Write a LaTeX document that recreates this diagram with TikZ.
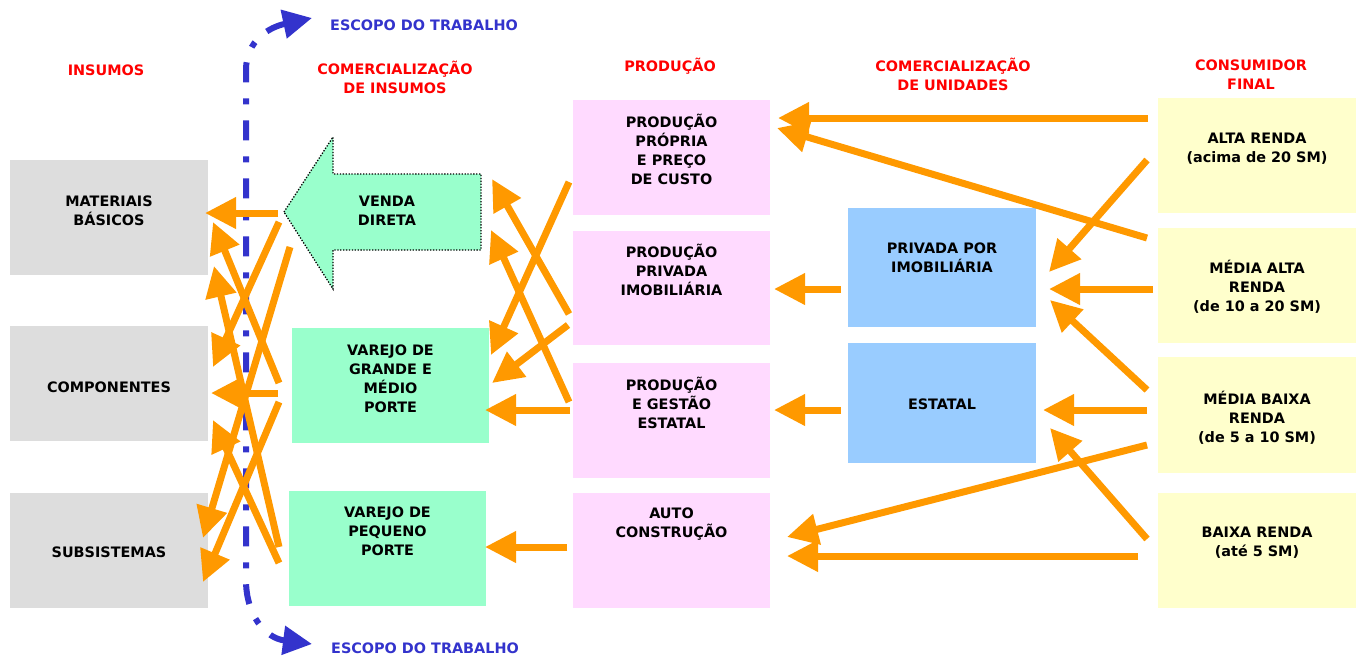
\documentclass[tikz,border=0pt]{standalone}
\usepackage{fontspec}
\setmainfont{DejaVu Sans}
\usetikzlibrary{arrows.meta,calc}
\definecolor{grayF}{HTML}{DDDDDD}
\definecolor{mintF}{HTML}{99FFCC}
\definecolor{pinkF}{HTML}{FFDAFF}
\definecolor{blueF}{HTML}{99CCFF}
\definecolor{yelF}{HTML}{FFFFCC}
\definecolor{orangeC}{HTML}{FF9900}
\definecolor{redC}{HTML}{FF0000}
\definecolor{scopeC}{HTML}{3333CC}
\newcommand\dfont{\fontsize{14.4}{19}\selectfont\bfseries}
\begin{document}
\begin{tikzpicture}[x=1pt,y=-1pt,
  box/.style={fill=#1, draw=none, inner sep=0pt, outer sep=0pt},
  txt/.style={align=center, font=\dfont, inner sep=0pt, text=black,
    execute at begin node=\strut, execute at end node=\strut},
  head/.style={txt, text=redC},
  scope/.style={txt, text=scopeC},
  oarr/.style={draw=orangeC, line width=7pt, -{Triangle[length=31pt,width=30pt]}},
  scopeline/.style={draw=scopeC, line width=6pt, dash pattern=on 20pt off 16pt on 6pt off 16pt,
    {Triangle[length=29pt,width=28pt]}-{Triangle[length=29pt,width=28pt]}}]
\useasboundingbox (0,0) rectangle (1359,657);

% scope line
\coordinate (sTop) at (312,18);
\coordinate (sBot) at (312,644);
\draw[scopeline] (sTop) .. controls (270,27) and (246,40) .. (246,70) -- (246,580)
  .. controls (246,615) and (265,638) .. (sBot);
\node[scope] (scopeT) at (424,26.5) {ESCOPO DO TRABALHO};
\node[scope] (scopeB) at (425,649.5) {ESCOPO DO TRABALHO};

% headers
\node[head] (h1) at (106,71.5) {INSUMOS};
\node[head] (h2) at (395,80.5) {COMERCIALIZAÇÃO\\DE INSUMOS};
\node[head] (h3) at (670,67.5) {PRODUÇÃO};
\node[head] (h4) at (953,77) {COMERCIALIZAÇÃO\\DE UNIDADES};
\node[head] (h5) at (1251,77.5) {CONSUMIDOR\\FINAL};

% insumos
\node[box=grayF, minimum width=198pt, minimum height=115pt] (mat) at (109,217.5) {};
\node[box=grayF, minimum width=198pt, minimum height=115pt] (comp) at (109,383.5) {};
\node[box=grayF, minimum width=198pt, minimum height=115pt] (sub) at (109,550.5) {};
\node[txt] (matT) at (109,213) {MATERIAIS\\BÁSICOS};
\node[txt] (compT) at (109,388.5) {COMPONENTES};
\node[txt] (subT) at (109,553.5) {SUBSISTEMAS};

% comercializacao de insumos
\draw[fill=mintF, draw=black, line width=1.3pt, dash pattern=on 1.3pt off 1.6pt]
  (284,212) coordinate (vdtip) -- (333,137) -- (333,174) -- (481,174) coordinate (vdR)
  -- (481,250) -- (333,250) -- (333,289) -- cycle;
\node[txt] (vd) at (387,214) {VENDA\\DIRETA};
\node[box=mintF, minimum width=197pt, minimum height=115pt] (vg) at (390.5,385.5) {};
\node[box=mintF, minimum width=197pt, minimum height=115pt] (vp) at (387.5,548.5) {};
\node[txt] (vgT) at (390.5,381) {VAREJO DE\\GRANDE E\\MÉDIO\\PORTE};
\node[txt] (vpT) at (387.5,533.5) {VAREJO DE\\PEQUENO\\PORTE};

% producao
\node[box=pinkF, minimum width=197pt, minimum height=115pt] (pp) at (671.5,157.5) {};
\node[box=pinkF, minimum width=197pt, minimum height=114pt] (ppi) at (671.5,288) {};
\node[box=pinkF, minimum width=197pt, minimum height=115pt] (pe) at (671.5,420.5) {};
\node[box=pinkF, minimum width=197pt, minimum height=115pt] (ac) at (671.5,550.5) {};
\node[txt] (ppT) at (671.5,152.5) {PRODUÇÃO\\PRÓPRIA\\E PREÇO\\DE CUSTO};
\node[txt] (ppiT) at (671.5,273) {PRODUÇÃO\\PRIVADA\\IMOBILIÁRIA};
\node[txt] (peT) at (671.5,405.5) {PRODUÇÃO\\E GESTÃO\\ESTATAL};
\node[txt] (acT) at (671.5,525) {AUTO\\CONSTRUÇÃO};

% comercializacao de unidades
\node[box=blueF, minimum width=188pt, minimum height=119pt] (ci) at (942,267.5) {};
\node[box=blueF, minimum width=188pt, minimum height=120pt] (ce) at (942,403) {};
\node[txt] (ciT) at (942,260.5) {PRIVADA POR\\IMOBILIÁRIA};
\node[txt] (ceT) at (942,405.5) {ESTATAL};

% consumidor final
\node[box=yelF, minimum width=198pt, minimum height=115pt] (ar) at (1257,155.5) {};
\node[box=yelF, minimum width=198pt, minimum height=115pt] (ma) at (1257,285.5) {};
\node[box=yelF, minimum width=198pt, minimum height=116pt] (mb) at (1257,415) {};
\node[box=yelF, minimum width=198pt, minimum height=115pt] (br) at (1257,550.5) {};
\node[txt] (arT) at (1257,150.5) {ALTA RENDA\\(acima de 20 SM)};
\node[txt] (maT) at (1257,289) {MÉDIA ALTA\\RENDA\\(de 10 a 20 SM)};
\node[txt] (mbT) at (1257,419.5) {MÉDIA BAIXA\\RENDA\\(de 5 a 10 SM)};
\node[txt] (brT) at (1257,545) {BAIXA RENDA\\(até 5 SM)};

% right arrows
\draw[oarr] ($(ar.north west)+(-10,20)$) -- ($(pp.north east)+(8,18)$);
\draw[oarr] ($(ma.north west)+(-11,10)$) -- ($(pp.north east)+(7,28)$);
\draw[oarr] ($(ar.north west)+(-11,62)$) -- ($(ci.north east)+(13,64)$);
\draw[oarr] ($(ma.north west)+(-5,61)$) -- ($(ci.north east)+(13,81)$);
\draw[oarr] ($(mb.north west)+(-11,33)$) -- ($(ci.north east)+(14,92)$);
\draw[oarr] ($(mb.north west)+(-11,53)$) -- ($(ce.north east)+(7,67)$);
\draw[oarr] ($(br.north west)+(-11,46)$) -- ($(ce.north east)+(14,85)$);
\draw[oarr] ($(mb.north west)+(-11,88)$) -- ($(ac.north east)+(17,44)$);
\draw[oarr] ($(br.north west)+(-20,63)$) -- ($(ac.north east)+(17,63)$);
\draw[oarr] ($(ci.north west)+(-7,81)$) -- ($(ppi.north east)+(4,58)$);
\draw[oarr] ($(ce.north west)+(-7,67)$) -- ($(pe.north east)+(4,47)$);

% middle arrows
\draw[oarr] ($(ac.north west)+(-6,54)$) -- ($(vp.north east)+(-1,56)$);
\draw[oarr] ($(pe.north west)+(-3,47)$) -- ($(vg.north east)+(-4,82)$);
\draw[oarr] ($(ppi.north west)+(-5,94)$) -- ($(vg.north east)+(3,55)$);
\draw[oarr] ($(ppi.north west)+(-4,83)$) -- ($(vdR)+(11,5)$);
\draw[oarr] ($(pe.north west)+(-4,39)$) -- ($(vdR)+(10,56)$);
\draw[oarr] ($(pp.north west)+(-4,82)$) -- ($(vg.north east)+(2,27)$);

% left arrows
\draw[oarr] ($(vdtip)+(-6,1)$) -- ($(mat.north east)+(-3,53)$);
\draw[oarr] ($(vdtip)+(-5,10)$) -- ($(comp.north east)+(5,41)$);
\draw[oarr] ($(vdtip)+(6,35)$) -- ($(sub.north east)+(-5,45)$);
\draw[oarr] ($(vg.north west)+(-13,55)$) -- ($(mat.north east)+(5,62)$);
\draw[oarr] ($(vg.north west)+(-14,65)$) -- ($(comp.north east)+(3,67)$);
\draw[oarr] ($(vg.north west)+(-13,74)$) -- ($(sub.north east)+(-5,89)$);
\draw[oarr] ($(vp.north west)+(-10,72)$) -- ($(comp.north east)+(5,94)$);
\draw[oarr] ($(vp.north west)+(-10,56)$) -- ($(mat.north east)+(6,106)$);
\end{tikzpicture}
\end{document}
